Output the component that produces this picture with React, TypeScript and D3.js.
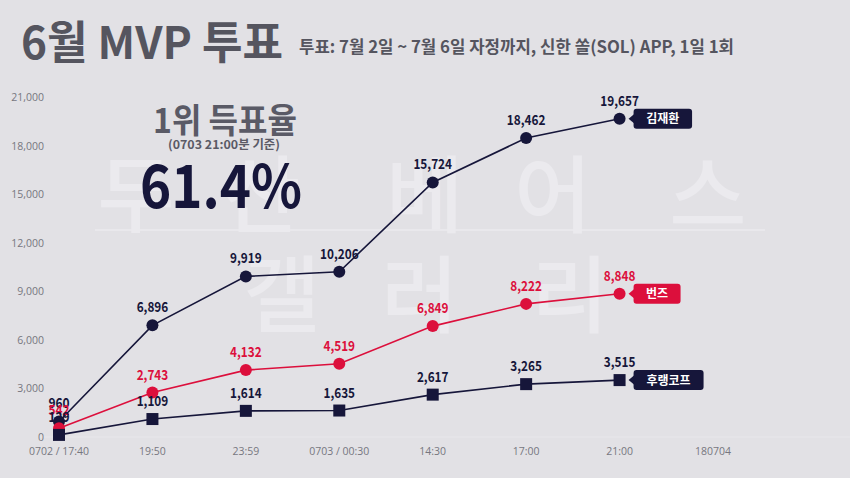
import React from 'react';
import * as d3 from 'd3';

const categories = ['0702 / 17:40', '19:50', '23:59', '0703 / 00:30', '14:30', '17:00', '21:00', '180704'];
const kimValues = [960, 6896, 9919, 10206, 15724, 18462, 19657];
const burnsValues = [542, 2743, 4132, 4519, 6849, 8222, 8848];
const frankValues = [129, 1109, 1614, 1635, 2617, 3265, 3515];
const yTicks = [0, 3000, 6000, 9000, 12000, 15000, 18000, 21000];

const NAVY = '#16163a';
const RED = '#dc0f3c';
const BG = '#e2e1e5';
const FONT = '"Noto Sans CJK KR", "Noto Sans", sans-serif';

const series = [
  { name: '김재환', values: kimValues, color: NAVY, marker: 'circle' },
  { name: '번즈', values: burnsValues, color: RED, marker: 'circle' },
  { name: '후랭코프', values: frankValues, color: NAVY, marker: 'square' },
];

const watermarkTop = [['두', 136], ['산', 262], ['베', 425], ['어', 553], ['스', 708]] as const;
const watermarkBottom = [['갤', 282], ['러', 420], ['리', 570]] as const;

// condensed width for number labels
const labelWidth = (s: string) => {
  const commas = s.split(',').length - 1;
  return ((s.length - commas) * 8.1 + commas * 3.9) * 0.87;
};

const App: React.FC = () => {
  const width = 850;
  const height = 478;

  const x = d3.scalePoint<string>().domain(categories).range([59, 713]);
  const y = d3.scaleLinear().domain([0, 21000]).range([437, 97]);
  const fmt = d3.format(',');

  return (
    <div style={{ position: 'fixed', left: 0, top: 0 }}>
      <svg width={width} height={height} style={{ display: 'block', fontFamily: FONT }}>
        <rect width={width} height={height} fill={BG} />

        {/* watermark */}
        <g fill="#ebeaee" fontSize={84} fontWeight={500} textAnchor="middle">
          {watermarkTop.map(([c, cx]) => (
            <text key={c} x={cx} y={226}>{c}</text>
          ))}
          {watermarkBottom.map(([c, cx]) => (
            <text key={c} x={cx} y={326}>{c}</text>
          ))}
        </g>
        <line x1={95} x2={765} y1={230} y2={230} stroke="#ebeaee" strokeWidth={1.5} />
        <line x1={40} x2={850} y1={437} y2={437} stroke="#e8e7eb" strokeWidth={1} />

        {/* title */}
        <text x={21} y={59} fontSize={45} fontWeight={700} fill="#55555f" textLength={262} lengthAdjust="spacingAndGlyphs">6월 MVP 투표</text>
        <text x={299} y={53} fontSize={17} fontWeight={700} fill="#55555f" textLength={435} lengthAdjust="spacingAndGlyphs">투표: 7월 2일 ~ 7월 6일 자정까지, 신한 쏠(SOL) APP, 1일 1회</text>

        {/* headline stat */}
        <text x={225} y={133} fontSize={34} fontWeight={700} fill="#5a5a66" textAnchor="middle" textLength={144} lengthAdjust="spacingAndGlyphs">1위 득표율</text>
        <text x={224} y={149} fontSize={12} fontWeight={700} fill="#5a5a66" textAnchor="middle" textLength={112} lengthAdjust="spacingAndGlyphs">(0703 21:00분 기준)</text>
        <text x={221} y={208} fontSize={60} fontWeight={700} fill={NAVY} textAnchor="middle" textLength={162} lengthAdjust="spacingAndGlyphs">61.4%</text>

        {/* y axis */}
        <g fontFamily='"Open Sans", sans-serif' fontSize={10.5} fill="#77777f" textAnchor="end">
          {yTicks.map(t => (
            <text key={t} x={44} y={y(t) + 4}>{fmt(t)}</text>
          ))}
        </g>

        {/* x axis */}
        <g fontFamily='"Open Sans", sans-serif' fontSize={10.5} fill="#77777f" textAnchor="middle">
          {categories.map(c => (
            <text key={c} x={x(c)} y={455}>{c}</text>
          ))}
        </g>

        {/* lines */}
        {series.map(s => {
          const line = d3.line<number>()
            .x((_, i) => x(categories[i]) as number)
            .y(d => y(d));
          return (
            <path key={s.name} d={line(s.values) || ''} fill="none" stroke={s.color} strokeWidth={1.6} />
          );
        })}

        {/* markers */}
        {series.map(s => (
          <g key={s.name + '-m'}>
            {s.values.map((v, i) => {
              const cx = x(categories[i]) as number;
              const cy = y(v);
              return s.marker === 'circle'
                ? <circle key={i} cx={cx} cy={cy} r={6} fill={s.color} />
                : <rect key={i} x={cx - 6} y={cy - 6} width={12} height={12} fill={s.color} />;
            })}
          </g>
        ))}

        {/* value labels */}
        {series.map(s => (
          <g key={s.name + '-l'} fontSize={14} fontWeight={700} fill={s.color} textAnchor="middle">
            {s.values.map((v, i) => (
              <text key={i} x={x(categories[i]) as number} y={y(v) - 13}
                textLength={labelWidth(fmt(v))} lengthAdjust="spacingAndGlyphs">{fmt(v)}</text>
            ))}
          </g>
        ))}

        {/* series tags */}
        {series.map(s => {
          const last = s.values.length - 1;
          const px = (x(categories[last]) as number) + 9;
          const py = y(s.values[last]);
          const w = s.name.length * 11.5 + 24;
          return (
            <g key={s.name + '-tag'}>
              <path d={`M${px},${py} L${px + 6},${py - 5} L${px + 6},${py + 5} Z`} fill={s.color} />
              <rect x={px + 5} y={py - 10} width={w} height={20} rx={3} fill={s.color} />
              <text x={px + 5 + w / 2} y={py + 4.5} fontSize={12} fontWeight={700} fill="#fff" textAnchor="middle">{s.name}</text>
            </g>
          );
        })}
      </svg>
    </div>
  );
};

export default App;
